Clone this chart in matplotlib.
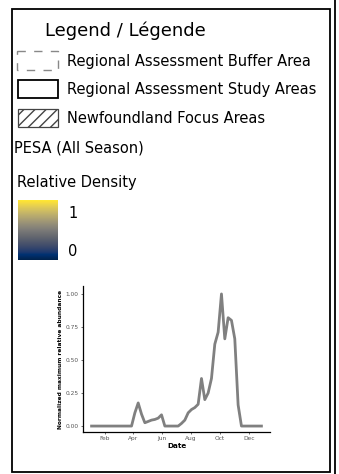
import numpy as np
import matplotlib
matplotlib.use("Agg")
import matplotlib.pyplot as plt
from matplotlib.patches import Rectangle

# legend entries
title = "Legend / Légende"
entries = ["Regional Assessment Buffer Area",
           "Regional Assessment Study Areas",
           "Newfoundland Focus Areas"]
species = "PESA (All Season)"
density_label = "Relative Density"
density_ticks = ["1", "0"]

# weekly abundance curve (day of year, normalized value)
days = [4, 11, 18, 25, 32, 39, 46, 53, 60, 67, 74, 81, 88, 95, 102, 109, 116,
        123, 130, 137, 144, 151, 158, 165, 172, 179, 186, 193, 200, 207, 214,
        221, 228, 235, 242, 249, 256, 263, 270, 277, 284, 291, 298, 305, 312,
        319, 326, 333, 340, 347, 354, 361]
abundance = [0, 0, 0, 0, 0, 0, 0, 0, 0, 0, 0, 0, 0, 0.10, 0.175, 0.09, 0.025,
             0.035, 0.045, 0.05, 0.06, 0.085, 0, 0, 0, 0, 0, 0.02, 0.045, 0.10,
             0.125, 0.14, 0.165, 0.36, 0.20, 0.25, 0.36, 0.62, 0.71, 1.0, 0.66,
             0.82, 0.80, 0.66, 0.16, 0, 0, 0, 0, 0, 0, 0]
month_days = [32, 91, 152, 213, 274, 335]
month_labels = ["Feb", "Apr", "Jun", "Aug", "Oct", "Dec"]
y_ticks = [0, 0.25, 0.5, 0.75, 1.0]

W, H = 339, 474
fig = plt.figure(figsize=(W / 100, H / 100), dpi=100)

# overlay in pixel coordinates for the legend panel
ov = fig.add_axes([0, 0, 1, 1])
ov.set_xlim(0, W)
ov.set_ylim(H, 0)
ov.axis("off")

ov.add_patch(Rectangle((12, 9), 318, 463, fill=False, ec="black", lw=1.3))
ov.plot([335, 335], [0, H], color="black", lw=1.3)

font = "DejaVu Sans"
fs = 10.5
ov.text(45, 31, title, fontsize=13, va="center", family=font)
ys = [61, 89, 118]
for y, t in zip(ys, entries):
    ov.text(67, y, t, fontsize=fs, va="center", family=font)

ov.add_patch(Rectangle((17, 51), 41, 19, fill=False, ec="#888888", lw=1.0,
                       ls=(0, (6, 6))))
ov.add_patch(Rectangle((18, 80), 40, 18, fill=False, ec="black", lw=1.3))
ov.add_patch(Rectangle((18, 109), 40, 18, fill=False, ec="#444444", lw=0.9,
                       hatch="///"))

ov.text(14, 148, species, fontsize=fs, va="center", family=font)
ov.text(17, 183, density_label, fontsize=fs, va="center", family=font)

grad = np.linspace(1, 0, 100).reshape(-1, 1)
ov.imshow(grad, cmap="cividis", extent=(18, 58, 260, 200), aspect="auto")
ov.set_xlim(0, W)
ov.set_ylim(H, 0)
ov.text(68, 213, density_ticks[0], fontsize=fs, va="center", family=font)
ov.text(68, 251, density_ticks[1], fontsize=fs, va="center", family=font)

# abundance chart
ax = fig.add_axes([83 / W, 1 - 432 / H, (270 - 83) / W, (432 - 286) / H])
ax.plot(days, abundance, color="#808080", lw=2.0)
ax.set_xlim(-14, 379)
ax.set_ylim(-0.045, 1.06)
ax.set_xticks(month_days)
ax.set_xticklabels(month_labels)
ax.set_yticks(y_ticks)
ax.set_yticklabels(["0.00", "0.25", "0.50", "0.75", "1.00"])
for s in ["top", "right"]:
    ax.spines[s].set_visible(False)
for s in ["left", "bottom"]:
    ax.spines[s].set_linewidth(0.9)
ax.tick_params(labelsize=4.2, colors="#555555", length=1.5, width=0.6, pad=1.5)
ax.set_xlabel("Date", fontsize=5.2, fontweight="bold", labelpad=1)
ax.set_ylabel("Normalized maximum relative abundance", fontsize=4.2,
              fontweight="bold", labelpad=2)

fig.savefig("out.png", dpi=100)
